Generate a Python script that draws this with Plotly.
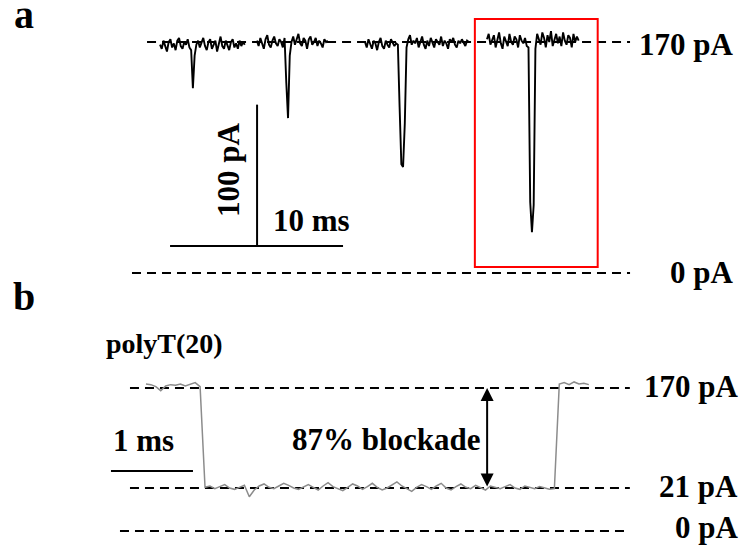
import plotly.graph_objects as go

# ---------------- data ----------------
# Panel a: four concatenated current segments (pA), sampled every 0.1 ms
dt_a = 0.1
seg_start_ms = [0.0, 5.6, 11.85, 18.9]
seg1 = [168,165,171,167,163,170,172,166,169,164,171,173,167,165,170,168,172,166,164,136,
        160,168,171,166,169,173,167,164,170,172,165,168,171,163,169,174,167,165,171,168,
        164,170,172,166,169,165,171,167,170,168]
seg2 = [171,167,173,169,165,172,175,168,166,171,174,169,167,172,170,166,173,140,114,160,
        170,174,168,172,176,169,167,173,171,165,172,174,168,170,173,167,171,169,166,172,
        170,171]
seg3 = [170,166,172,168,165,171,169,164,170,173,167,165,171,168,166,172,170,167,169,168,
        122,80,78,110,166,172,175,168,171,169,173,166,170,174,168,165,171,167,173,169,
        166,172,170,168,174,167,171,169,165,172,170,173,168,166,171,169,172,170,167,171,
        170]
seg4 = [172,176,168,171,175,166,173,177,169,165,174,171,167,176,170,168,174,172,166,175,
        171,169,173,167,166,52,30,50,165,176,171,168,177,173,166,175,170,178,167,172,
        176,169,174,167,177,171,168,175,173,166,176,170,174,171]
segments_a = [seg1, seg2, seg3, seg4]

# Panel b: single polyT(20) event (pA), sampled every 0.06 ms
dt_b = 0.06
pre_b = [176,175,172,166,173,175,174,176,173,176,178,172]
block_b = [22,24,20,23,26,21,19,22,25,8,18,24,27,22,20,24,28,25,21,19,
           23,26,22,18,24,29,23,20,17,22,27,24,19,23,28,22,18,21,25,30,
           24,20,16,22,26,23,19,24,28,21,18,23,27,22,20,25,21,18,24,22,
           20,23,26,21,19,24,22,20,23,21,19,20]
post_b = [176,178,175,179,176,177,175]

open_pA = 170
blocked_pA = 21
zero_pA = 0
scale_a_ms = 10
scale_a_pA = 100
scale_b_ms = 1

# ---------------- figure ----------------
FONT = "Liberation Serif, Times New Roman, serif"
fig = go.Figure()

xa, ya = [], []
for start, seg in zip(seg_start_ms, segments_a):
    xa += [start + i * dt_a for i in range(len(seg))] + [None]
    ya += seg + [None]
fig.add_trace(go.Scatter(x=xa, y=ya, mode="lines", line=dict(color="black", width=1.9),
                         xaxis="x", yaxis="y", hoverinfo="skip", showlegend=False))

yb = pre_b + block_b + post_b
xb = [i * dt_b for i in range(len(yb))]
fig.add_trace(go.Scatter(x=xb, y=yb, mode="lines", line=dict(color="#8c8c8c", width=1.5),
                         xaxis="x2", yaxis="y2", hoverinfo="skip", showlegend=False))

# scale bars panel a
bar_y = 19.9
bar_x0 = 0.58
bar_vx = 5.61
fig.add_trace(go.Scatter(x=[bar_x0, bar_x0 + scale_a_ms], y=[bar_y, bar_y], mode="lines",
                         line=dict(color="black", width=2), xaxis="x", yaxis="y",
                         hoverinfo="skip", showlegend=False))
fig.add_trace(go.Scatter(x=[bar_vx, bar_vx], y=[bar_y, bar_y + scale_a_pA + 4], mode="lines",
                         line=dict(color="black", width=2), xaxis="x", yaxis="y",
                         hoverinfo="skip", showlegend=False))
# scale bar panel b
fig.add_trace(go.Scatter(x=[-0.427, -0.427 + scale_b_ms], y=[46.3, 46.3], mode="lines",
                         line=dict(color="black", width=2), xaxis="x2", yaxis="y2",
                         hoverinfo="skip", showlegend=False))

dash = "9px,6px"
shapes = [
    dict(type="line", xref="x", yref="y", x0=-0.75, x1=27.17, y0=open_pA, y1=open_pA,
         line=dict(color="black", width=2, dash=dash), layer="below"),
    dict(type="line", xref="x", yref="y", x0=-1.62, x1=27.17, y0=zero_pA, y1=zero_pA,
         line=dict(color="black", width=2, dash=dash), layer="below"),
    dict(type="rect", xref="x", yref="y", x0=18.2, x1=25.3, y0=4.4, y1=186.9,
         line=dict(color="#ff0000", width=2)),
    dict(type="line", xref="x2", yref="y2", x0=-0.195, x1=5.90, y0=open_pA, y1=open_pA,
         line=dict(color="black", width=2, dash=dash), layer="below"),
    dict(type="line", xref="x2", yref="y2", x0=-0.195, x1=5.90, y0=blocked_pA, y1=blocked_pA,
         line=dict(color="black", width=2, dash=dash), layer="below"),
    dict(type="line", xref="x2", yref="paper", x0=-0.317, x1=5.90, y0=19/550, y1=19/550,
         line=dict(color="black", width=2, dash=dash), layer="below"),
]

def txt(text, x, y, size=31, xanchor="center", xref="paper", yref="paper", angle=0):
    return dict(text=text, x=x, y=y, xref=xref, yref=yref, xanchor=xanchor, yanchor="middle",
                showarrow=False, textangle=angle,
                font=dict(family=FONT, size=size, color="black", weight="bold"))

def px(x):
    return x / 743

def py(y):
    return 1 - y / 550

annotations = [
    txt("a", px(12), py(15), size=40, xanchor="left"),
    txt("b", px(11), py(296), size=40, xanchor="left"),
    txt("170 pA", px(735), py(45), xanchor="right"),
    txt("0 pA", px(735), py(272), xanchor="right"),
    txt("100 pA", px(228), py(170), angle=-90),
    txt("10 ms", px(311), py(220)),
    txt("polyT(20)", px(164), py(343), size=28),
    txt("1 ms", px(143), py(440)),
    txt("87% blockade", px(386), py(439)),
    txt("170 pA", px(740), py(386), xanchor="right"),
    txt("21 pA", px(740), py(486), xanchor="right"),
    txt("0 pA", px(740), py(527), xanchor="right"),
    dict(x=4.16, y=open_pA, ax=4.16, ay=blocked_pA, xref="x2", yref="y2",
         axref="x2", ayref="y2", text="", showarrow=True, arrowside="end+start",
         arrowhead=2, arrowsize=1.3, arrowwidth=2, arrowcolor="black"),
]

ax_common = dict(visible=False, showgrid=False, zeroline=False, fixedrange=True)
split = 250 / 550
fig.update_layout(
    width=743, height=550,
    margin=dict(l=0, r=0, t=0, b=0),
    paper_bgcolor="white", plot_bgcolor="white",
    xaxis=dict(domain=[0, 1], range=[-9.25, 33.7], anchor="y", **ax_common),
    yaxis=dict(domain=[split, 1], range=[-19.87, 200.91], anchor="x", **ax_common),
    xaxis2=dict(domain=[0, 1], range=[-1.78, 7.28], anchor="y2", **ax_common),
    yaxis2=dict(domain=[0, split], range=[-71.38, 301.1], anchor="x2", **ax_common),
    shapes=shapes, annotations=annotations, showlegend=False,
)

fig.write_html("out.html", config={"displayModeBar": False},
               post_script="document.body.style.margin='0px';document.body.style.overflow='hidden';")
